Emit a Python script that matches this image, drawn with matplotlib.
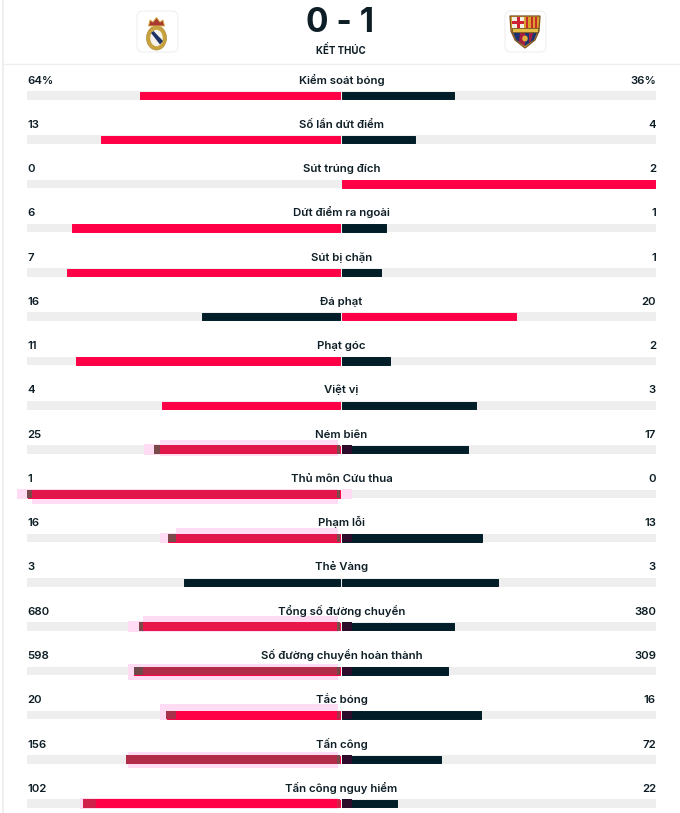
import matplotlib
matplotlib.use("Agg")
import matplotlib.pyplot as plt
from matplotlib.patches import Rectangle, FancyBboxPatch, Ellipse, Polygon

categories = ["Kiểm soát bóng", "Số lần dứt điểm", "Sút trúng đích", "Dứt điểm ra ngoài",
              "Sút bị chặn", "Đá phạt", "Phạt góc", "Việt vị", "Ném biên", "Thủ môn Cứu thua",
              "Phạm lỗi", "Thẻ Vàng", "Tổng số đường chuyền", "Số đường chuyền hoàn thành",
              "Tắc bóng", "Tấn công", "Tấn công nguy hiểm"]
home_values = [64, 13, 0, 6, 7, 16, 11, 4, 25, 1, 16, 3, 680, 598, 20, 156, 102]
away_values = [36, 4, 2, 1, 1, 20, 2, 3, 17, 0, 13, 3, 380, 309, 16, 72, 22]
home_labels = ["64%"] + [str(v) for v in home_values[1:]]
away_labels = ["36%"] + [str(v) for v in away_values[1:]]
score = "0 - 1"
status = "KẾT THÚC"

RED, DARK, TRACK, TEXT = "#ff0046", "#011e28", "#eeeeee", "#0e1e26"
CX, HALF, LEFT, RIGHT = 341, 313.5, 27, 656
ROW0, STEP = 79.2, 44.27
BAR_H = 8.5
plt.rcParams["font.family"] = ["Inter", "DejaVu Sans"]

fig = plt.figure(figsize=(6.8, 8.13), dpi=100)
ax = fig.add_axes([0, 0, 1, 1])
ax.set_xlim(0, 680)
ax.set_ylim(813, 0)
ax.axis("off")

# page frame
ax.plot([2.5, 2.5], [0, 813], color="#ececec", lw=1.2, zorder=0)
ax.plot([2, 680], [64.5, 64.5], color="#efefef", lw=1, zorder=0)

# header
ax.text(CX - 0.5, 32.5, score, ha="center", va="baseline", fontsize=24, fontweight="bold", color=TEXT)
ax.text(CX, 54.5, status, ha="center", va="baseline", fontsize=7, fontweight="bold", color=TEXT)


def logo_box(x0):
    ax.add_patch(FancyBboxPatch((x0 + 4, 15), 33, 33, boxstyle="round,pad=4,rounding_size=6",
                                fc="white", ec="#f1f1f1", lw=0.9, zorder=2))


logo_box(137)
ax.add_patch(Ellipse((156.5, 38), 20, 24, fc="#c8a23e", ec="#b08d35", lw=0.5, zorder=3))
ax.add_patch(Ellipse((156.5, 38), 12.5, 16.5, fc="#f4f2ea", zorder=4))
ax.add_patch(Polygon([(151, 33), (153.5, 31), (163, 41), (160, 44.5)], fc="#1f3266", zorder=5))
ax.add_patch(Polygon([(148.5, 26), (150, 20), (153, 22), (156.5, 17.5), (160, 22), (163, 20), (164.5, 26)],
                     fc="#a93a32", ec="#d8b24a", lw=0.7, zorder=5))

logo_box(505)
ax.add_patch(Polygon([(510, 16), (540, 16), (539, 31), (535, 40), (525, 48), (515, 40), (511, 31)],
                     fc="#d9a12a", ec="#7d5320", lw=0.9, zorder=3))
ax.add_patch(Rectangle((512, 17.5), 12, 11, fc="#f3efe4", zorder=4))
ax.add_patch(Rectangle((516.5, 17.5), 3, 11, fc="#cf2132", zorder=5))
ax.add_patch(Rectangle((512, 21.5), 12, 3, fc="#cf2132", zorder=5))
for x0 in (526, 530.5, 535):
    ax.add_patch(Rectangle((x0, 17.5), 2.3, 11, fc="#c92b2d", zorder=4))
ax.add_patch(Rectangle((512, 28.5), 26, 4, fc="#e6bd45", ec="#3b2a1b", lw=0.4, zorder=4))
ax.add_patch(Polygon([(513, 33), (537, 33), (534, 40), (525, 46), (516, 40)], fc="#1d3470", zorder=4))
ax.add_patch(Polygon([(520, 33), (525, 33), (525, 46), (519, 42)], fc="#a51f3e", zorder=5))
ax.add_patch(Polygon([(529, 33), (533, 33), (531, 41), (529, 43)], fc="#a51f3e", zorder=5))
ax.add_patch(Ellipse((525, 38.5), 5.5, 6, fc="#e2b13c", zorder=6))

# compression-artefact highlights:
# row -> (outer left, box left, box up, box down, bar tint, edge tint, edge end)
halos = {
    8:  (144, 160, 5, 1.7, "#e0164a", "#7a4a4a", 160),
    9:  (17, 32, 1, 6, "#e0164a", "#7a4a4a", 32),
    10: (160, 176, 6, 0.5, "#e0164a", "#7a4a4a", 176),
    12: (128, 143, 6, 1, "#e8164a", "#7a4a4a", 143),
    13: (128, 128, 3, 5, "#b02c48", "#70484a", 143),
    14: (160, 160, 7, 1, RED, "#a8304a", 176),
    15: (128, 128, 3, 4, "#b02c48", "#7a4a4a", 0),
    16: (80, 84, 1, 1, RED, "#d0204a", 96),
}

# tracks and bars
for i, (cat, hv, av) in enumerate(zip(categories, home_values, away_values)):
    y_t = ROW0 + i * STEP
    y = y_t + 16.2
    total = hv + av
    hl, al = hv / total * HALF, av / total * HALF
    hc = DARK if hv == av else (RED if hv > av else DARK)
    ac = DARK if hv == av else (RED if av > hv else DARK)
    ax.barh(y, RIGHT - LEFT, left=LEFT, height=BAR_H, color=TRACK, zorder=1)
    kw = dict(height=BAR_H - 1, linewidth=0.7, joinstyle="round", zorder=3)
    bar_left = CX - 0.5 - hl
    if hl > 0:
        ax.barh(y, -(hl - 1), left=CX - 1, color=hc, edgecolor=hc, **kw)
    if al > 0:
        ax.barh(y, al - 0.5, left=CX + 1, color=ac, edgecolor=ac, **kw)

    if i in halos:
        outer, box, up, down, tint, edge, edge_end = halos[i]
        ax.add_patch(Rectangle((outer, y - BAR_H / 2 - 1), 338 - outer, BAR_H + 2,
                               fc="#ffdcf4", ec="none", zorder=2))
        ax.add_patch(Rectangle((box, y - BAR_H / 2 - up), 338 - box, BAR_H + up + down,
                               fc="#ffdcf4", ec="none", zorder=2))
        ax.add_patch(Rectangle((bar_left, y - BAR_H / 2), CX - 1 - bar_left, BAR_H, fc=tint, ec="none", zorder=4))
        if edge_end > bar_left:
            ax.add_patch(Rectangle((bar_left, y - BAR_H / 2), edge_end - bar_left, BAR_H,
                                   fc=edge, ec="none", zorder=5))
        ax.add_patch(Rectangle((337, y - BAR_H / 2), 3, BAR_H, fc=edge, ec="none", zorder=5))
        if al > 0:
            ax.add_patch(Rectangle((CX + 1, y - BAR_H / 2), 10, BAR_H, fc="#2c0c2a", ec="none", zorder=5))
        else:
            ax.add_patch(Rectangle((CX, y - BAR_H / 2 - 1), 11, BAR_H + 2, fc="#ffdcf4", ec="none", zorder=2))

    base = y_t + 4.3
    ax.text(CX + 0.5, base, cat, ha="center", va="baseline", fontsize=8.2, fontweight="semibold", color=TEXT, zorder=6)
    ax.text(LEFT, base, home_labels[i], ha="left", va="baseline", fontsize=8.2, fontweight="semibold", color=TEXT, zorder=6)
    ax.text(RIGHT, base, away_labels[i], ha="right", va="baseline", fontsize=8.2, fontweight="semibold", color=TEXT, zorder=6)

fig.savefig("out.png", dpi=100, facecolor="white")
